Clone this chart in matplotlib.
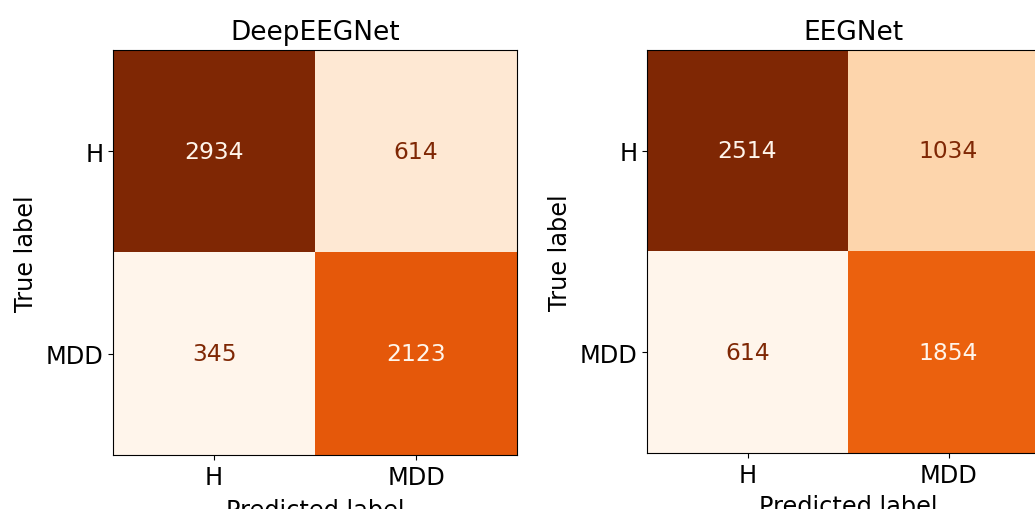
import matplotlib
matplotlib.use("Agg")
import matplotlib.pyplot as plt
import numpy as np

classes = ["H", "MDD"]
titles = ["DeepEEGNet", "EEGNet"]
deep_cm = [[2934, 614], [345, 2123]]
eeg_cm = [[2514, 1034], [614, 1854]]
matrices = [deep_cm, eeg_cm]

fig = plt.figure(figsize=(10.35, 5.1), dpi=100)
W, H = 1035, 510
boxes = [(113, 51, 517, 456), (647, 51, 1049, 454)]
title_x = [0.5, 0.514]
xlabel_pad = [7, 5]
cmap = plt.get_cmap("Oranges")

for (x0, y0, x1, y1), cm, title, tx, xlp in zip(boxes, matrices, titles, title_x, xlabel_pad):
    ax = fig.add_axes([x0 / W, 1 - y1 / H, (x1 - x0) / W, (y1 - y0) / H])
    cm = np.array(cm)
    ax.imshow(cm, cmap=cmap, interpolation="nearest", aspect="auto")
    thresh = (cm.max() + cm.min()) / 2.0
    for i in range(cm.shape[0]):
        for j in range(cm.shape[1]):
            color = cmap(0.0) if cm[i, j] > thresh else cmap(1.0)
            ax.text(j, i, f"{cm[i, j]}", ha="center", va="center",
                    color=color, fontsize=16.8)
    ax.set_xticks(range(len(classes)))
    ax.set_yticks(range(len(classes)))
    ax.set_xticklabels(classes, fontsize=17.3)
    ax.set_yticklabels(classes, fontsize=17.3)
    ax.set_xlabel("Predicted label", fontsize=17.3, labelpad=xlp)
    ax.set_ylabel("True label", fontsize=17.3, labelpad=5.5)
    ax.set_title(title, fontsize=19, pad=8, x=tx)
    ax.set_xlim(-0.5, 1.5)
    ax.set_ylim(1.5, -0.5)

fig.savefig("out.png", dpi=100)
